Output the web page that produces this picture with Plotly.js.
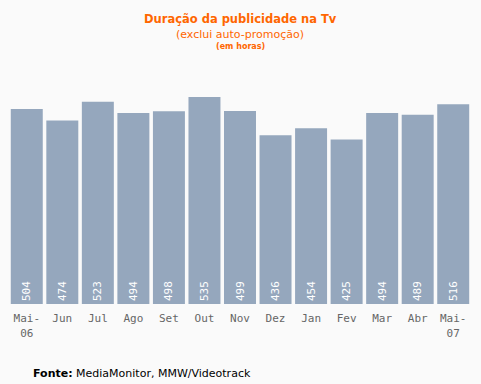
<!DOCTYPE html>
<html><head><meta charset="utf-8">
<script src="https://cdn.plot.ly/plotly-3.0.1.min.js"></script>
<style>body{margin:0;background:#fafafa}</style>
</head><body>
<div id="chart" style="width:481px;height:384px"></div>
<script>
const categories = ["Mai-<br>06","Jun","Jul","Ago","Set","Out","Nov","Dez","Jan","Fev","Mar","Abr","Mai-<br>07"];
const values = [504,474,523,494,498,535,499,436,454,425,494,489,516];

const mono = "DejaVu Sans Mono, monospace";
const sans = "DejaVu Sans, Verdana, sans-serif";
// plot area: x 9..471, y 80..304
const px = x => (x - 9) / 462;
const py = y => (304 - y) / 224;
Plotly.newPlot("chart", [{
  type: "bar",
  x: categories,
  y: values,
  marker: {color: "#95a7bd"},
  text: values.map(String),
  textposition: "inside",
  insidetextanchor: "start",
  textangle: -90,
  textfont: {family: mono, size: 11, color: "#ffffff"},
  hoverinfo: "none"
}], {
  width: 481, height: 384,
  paper_bgcolor: "#fafafa", plot_bgcolor: "#fafafa",
  margin: {l: 9, r: 10, t: 80, b: 80},
  bargap: 0.1,
  showlegend: false,
  xaxis: {tickfont: {family: mono, size: 11, color: "#666666"}, showline: false, ticks: "outside", ticklen: 4, tickcolor: "rgba(0,0,0,0)", showgrid: false, fixedrange: true},
  yaxis: {range: [0, 579], visible: false, showgrid: false, zeroline: false, fixedrange: true},
  annotations: [
    {text: "<b>Duração da publicidade na Tv</b>", x: 0.5, xref: "paper", y: py(19), yref: "paper", yanchor: "middle", showarrow: false, font: {family: sans, size: 11.5, color: "#ff6600"}},
    {text: "(exclui auto-promoção)", x: 0.5, xref: "paper", y: py(34), yref: "paper", yanchor: "middle", showarrow: false, font: {family: sans, size: 11, color: "#ff6600"}},
    {text: "<b>(em horas)</b>", x: 0.5, xref: "paper", y: py(46), yref: "paper", yanchor: "middle", showarrow: false, font: {family: sans, size: 8, color: "#ff6600"}},
    {text: "<b>Fonte:</b> MediaMonitor, MMW/Videotrack", x: px(31), xref: "paper", y: py(373), yref: "paper", xanchor: "left", yanchor: "middle", showarrow: false, font: {family: sans, size: 11, color: "#000000"}}
  ]
}, {displayModeBar: false, staticPlot: true});
</script>
</body></html>
